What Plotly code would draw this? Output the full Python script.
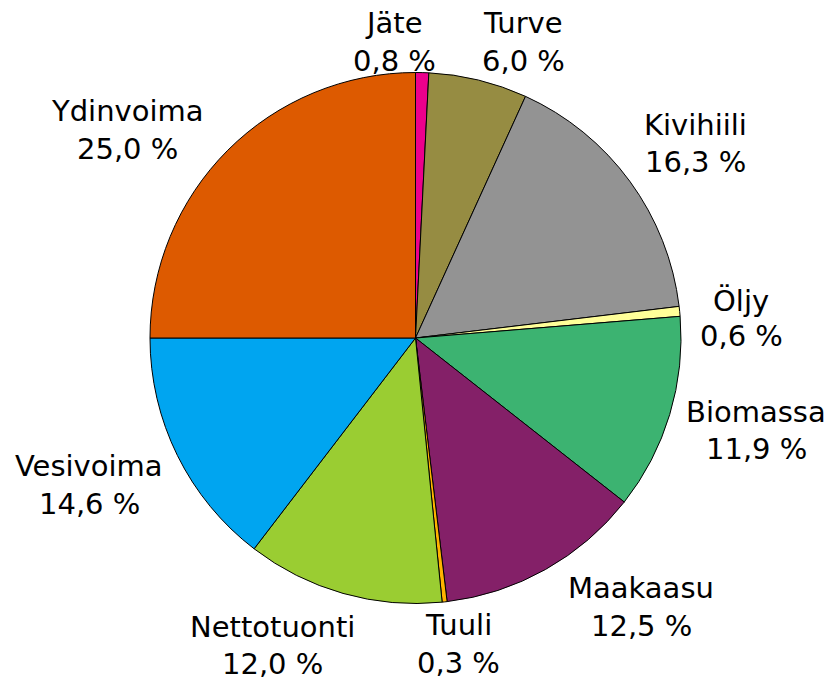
import plotly.graph_objects as go

W, H = 829, 680

labels = ["Jäte", "Turve", "Kivihiili", "Öljy", "Biomassa", "Maakaasu",
          "Tuuli", "Nettotuonti", "Vesivoima", "Ydinvoima"]
values = [0.8, 6.0, 16.3, 0.6, 11.9, 12.5, 0.3, 12.0, 14.6, 25.0]
colors = ["#EC008C", "#968C42", "#939393", "#FFFF99", "#3CB371", "#842068",
          "#FFB300", "#9ACD32", "#00A5F0", "#DD5A00"]

# label centre positions in pixels: (x, y of name line, y of value line)
label_pos = [(394, 23, 61), (523, 23, 61), (695, 125, 162), (741, 301, 336),
             (756, 412, 449), (641, 588, 626), (459, 625, 663),
             (272, 627, 664), (89, 466, 504), (128, 111, 149)]

cx, cy, r = 415.5, 338, 265.5

fig = go.Figure(go.Pie(
    labels=labels,
    values=values,
    sort=False,
    direction="clockwise",
    rotation=0,
    marker=dict(colors=colors, line=dict(color="black", width=1)),
    textinfo="none",
    hoverinfo="label+percent",
    domain=dict(x=[(cx - r) / W, (cx + r) / W],
                y=[(H - cy - r) / H, (H - cy + r) / H]),
    showlegend=False,
))

font = dict(family="DejaVu Sans, Verdana, sans-serif", size=29, color="black")
for name, val, (px, py1, py2) in zip(labels, values, label_pos):
    value_txt = f"{val:.1f}".replace(".", ",") + " %"
    for txt, py in ((name, py1), (value_txt, py2)):
        fig.add_annotation(
            x=px / W, y=1 - py / H, xref="paper", yref="paper",
            text=txt, showarrow=False, xanchor="center", yanchor="middle",
            align="center", font=font,
        )

fig.update_layout(
    width=W, height=H,
    margin=dict(l=0, r=0, t=0, b=0),
    paper_bgcolor="white", plot_bgcolor="white",
)

fig.write_html("out.html",
               config={"displayModeBar": False},
               post_script="document.body.style.margin='0';document.body.style.overflow='hidden';")
